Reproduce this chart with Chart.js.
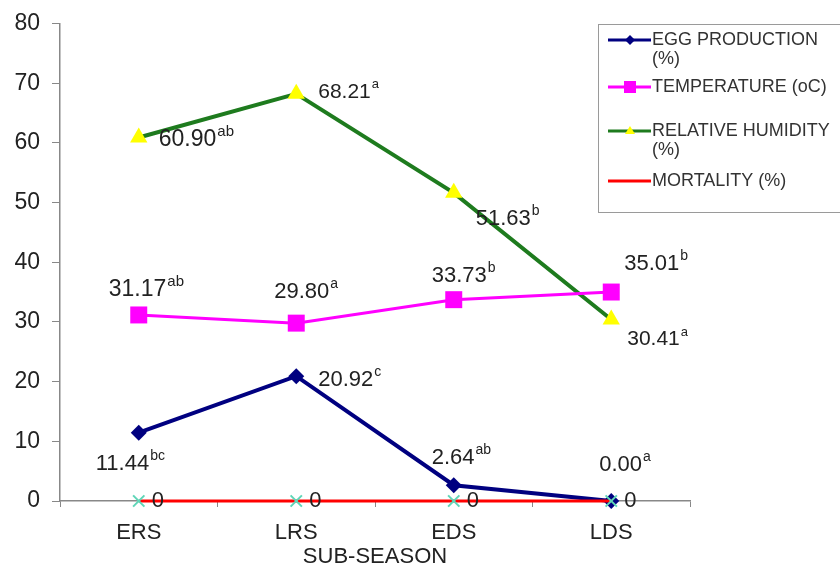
<!DOCTYPE html>
<html><head><meta charset="utf-8">
<script src="https://cdn.jsdelivr.net/npm/chart.js@4"></script>
<style>html,body{margin:0;padding:0;background:#fff}canvas{display:block}</style>
</head><body>
<canvas id="c" width="840" height="568"></canvas>
<script>
const categories = ['ERS','LRS','EDS','LDS'];
const eggProduction = [11.44, 20.92, 2.64, 0.00];
const temperature = [31.17, 29.80, 33.73, 35.01];
const humidity = [60.90, 68.21, 51.63, 30.41];
const mortality = [0, 0, 0, 0];
const eggLetters = ['bc','c','ab','a'];
const tempLetters = ['ab','a','b','b'];
const humLetters = ['ab','a','b','a'];
const yTicks = [0,10,20,30,40,50,60,70,80];

const FONT = 'Arial, "Liberation Sans", sans-serif';
// label style: offsets (dx, dy) and font sizes per point
const labelStyle = {
  0: {text: v => v.toFixed(2), sup: eggLetters, size: [22,22,22,22], off: [[-43,31],[22,4],[-22,-27],[-12,-36]]},
  1: {text: v => v.toFixed(2), sup: tempLetters, size: [23,22,22,22], off: [[-30,-25],[-22,-31],[-22,-24],[13,-28]]},
  2: {text: v => v.toFixed(2), sup: humLetters, size: [23,21,22,21], off: [[20,2],[22,-2],[22,26],[16,20]]},
  3: {text: v => String(v), sup: ['','','',''], size: [22,22,22,22], off: [[13,0],[13,0],[13,0],[13,0]]}
};

const labelsPlugin = {
  id: 'vlabels',
  afterDatasetsDraw(chart) {
    const ctx = chart.ctx;
    ctx.save();
    ctx.fillStyle = '#222';
    ctx.textBaseline = 'middle';
    ctx.textAlign = 'left';
    chart.data.datasets.forEach((ds, di) => {
      const meta = chart.getDatasetMeta(di);
      const st = labelStyle[di];
      meta.data.forEach((pt, i) => {
        const t = st.text(ds.data[i]);
        const x = pt.x + st.off[i][0], y = pt.y + st.off[i][1];
        const fs = st.size[i];
        ctx.font = fs + 'px ' + FONT;
        ctx.fillText(t, x, y);
        const w = ctx.measureText(t).width;
        if (st.sup[i]) {
          ctx.font = Math.round(fs * 0.64) + 'px ' + FONT;
          ctx.fillText(st.sup[i], x + w + 1, y - fs * 0.35);
        }
      });
    });
    ctx.restore();
  }
};

const legendItems = [
  {lines: ['EGG PRODUCTION','(%)'], color: '#000080', marker: 'diamond', mcolor: '#000080', y: 40},
  {lines: ['TEMPERATURE (oC)'], color: '#FF00FF', marker: 'square', mcolor: '#FF00FF', y: 87},
  {lines: ['RELATIVE HUMIDITY','(%)'], color: '#1E7B1E', marker: 'tri', mcolor: '#FFFF00', y: 131},
  {lines: ['MORTALITY (%)'], color: '#FF0000', marker: 'none', mcolor: '#FF0000', y: 181}
];
const legendPlugin = {
  id: 'customLegend',
  afterDraw(chart) {
    const ctx = chart.ctx;
    ctx.save();
    ctx.fillStyle = '#fff';
    ctx.fillRect(598, 24, 250, 188);
    ctx.strokeStyle = '#9a9a9a';
    ctx.lineWidth = 1;
    ctx.strokeRect(598.5, 24.5, 250, 188);
    legendItems.forEach(it => {
      ctx.strokeStyle = it.color;
      ctx.lineWidth = 3;
      ctx.beginPath(); ctx.moveTo(608, it.y); ctx.lineTo(651, it.y); ctx.stroke();
      ctx.fillStyle = it.mcolor;
      const cx = 630, cy = it.y;
      if (it.marker === 'diamond') {
        ctx.beginPath(); ctx.moveTo(cx, cy-5); ctx.lineTo(cx+5, cy); ctx.lineTo(cx, cy+5); ctx.lineTo(cx-5, cy); ctx.closePath(); ctx.fill();
      } else if (it.marker === 'square') {
        ctx.fillRect(cx-6, cy-6, 12, 12);
      } else if (it.marker === 'tri') {
        ctx.beginPath(); ctx.moveTo(cx, cy-5); ctx.lineTo(cx+5, cy+3); ctx.lineTo(cx-5, cy+3); ctx.closePath(); ctx.fill();
      }
      ctx.fillStyle = '#333';
      ctx.font = '18px ' + FONT;
      ctx.textBaseline = 'middle';
      it.lines.forEach((l, k) => ctx.fillText(l, 652, it.y + k * 19));
    });
    ctx.restore();
  }
};

new Chart(document.getElementById('c'), {
  type: 'line',
  data: {
    labels: categories,
    datasets: [
      {label: 'EGG PRODUCTION (%)', data: eggProduction, borderColor: '#000080', backgroundColor: '#000080',
       borderWidth: 4, pointStyle: 'rectRot', pointRadius: 8, pointBorderWidth: 0, order: 2, clip: false},
      {label: 'TEMPERATURE (oC)', data: temperature, borderColor: '#FF00FF', backgroundColor: '#FF00FF',
       borderWidth: 3, pointStyle: 'rect', pointRadius: 12, pointBorderWidth: 0, order: 3, clip: false},
      {label: 'RELATIVE HUMIDITY (%)', data: humidity, borderColor: '#1E7B1E', backgroundColor: '#FFFF00',
       borderWidth: 4, pointStyle: 'triangle', pointRadius: 10, pointBorderWidth: 0, order: 4, clip: false},
      {label: 'MORTALITY (%)', data: mortality, borderColor: '#FF0000', backgroundColor: '#5FD6B8',
       borderWidth: 3, pointStyle: 'crossRot', pointRadius: 8, pointBorderColor: '#5FD6B8', pointBorderWidth: 2, order: 1, clip: false}
    ]
  },
  options: {
    responsive: false,
    animation: false,
    devicePixelRatio: 1,
    layout: {padding: {left: 0, right: 150, top: 22, bottom: 0}},
    plugins: {legend: {display: false}, tooltip: {enabled: false}},
    elements: {line: {tension: 0}},
    scales: {
      x: {
        offset: true,
        grid: {offset: true, drawOnChartArea: false, drawTicks: true, tickLength: 6, color: '#888'},
        border: {color: '#888', width: 1.5},
        ticks: {color: '#222', font: {family: FONT, size: 22}, padding: 13},
        title: {display: true, text: 'SUB-SEASON', color: '#222', font: {family: FONT, size: 22, lineHeight: 1}, padding: {top: 0, bottom: 0}},
        afterFit(s) { s.height = 67; }
      },
      y: {
        min: 0, max: 80,
        afterBuildTicks(s) { s.ticks = yTicks.map(v => ({value: v})); },
        grid: {drawOnChartArea: false, drawTicks: true, tickLength: 8, color: '#888'},
        border: {color: '#888', width: 1.5},
        ticks: {color: '#222', font: {family: FONT, size: 23, lineHeight: 1}, padding: 12},
        afterFit(s) { s.width = 60; }
      }
    }
  },
  plugins: [labelsPlugin, legendPlugin]
});
</script>
</body></html>
